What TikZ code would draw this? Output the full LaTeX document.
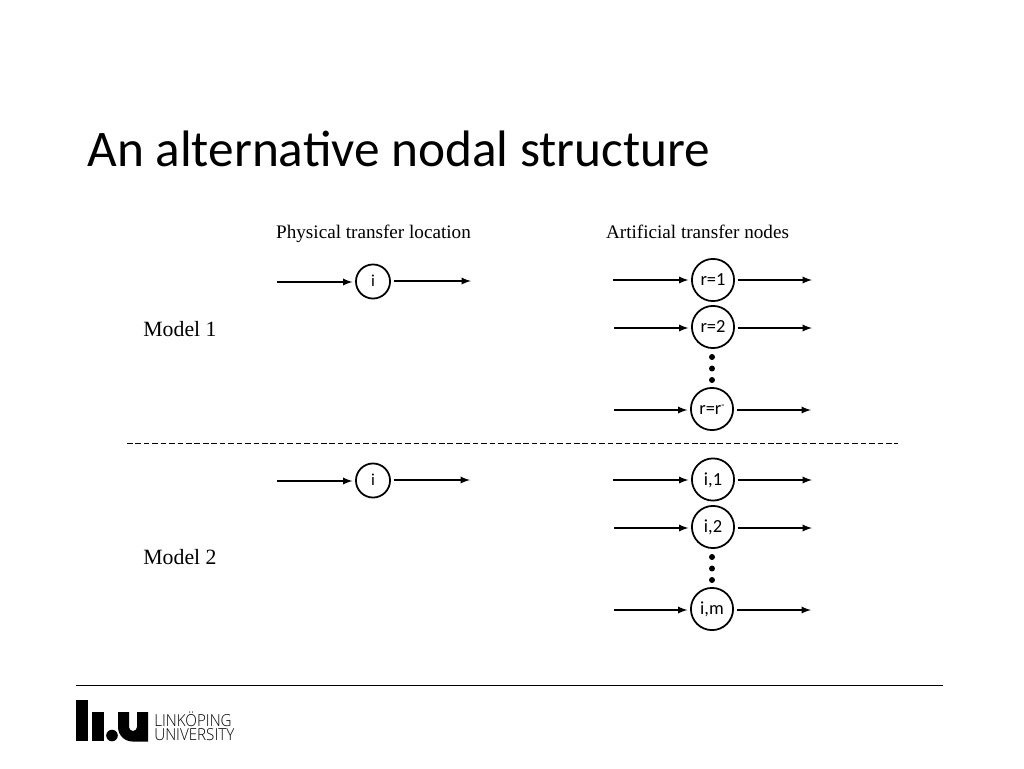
\documentclass[tikz,border=0pt]{standalone}
\usepackage{fontspec}
\setmainfont{Liberation Serif}
\setsansfont{Carlito}
\newfontfamily\logofont{Open Sans Light}[FakeStretch=0.92]
\tikzset{
 phys/.style={circle,draw,line width=1pt,minimum size=19.4pt,inner sep=0pt,text height=6.2pt,text depth=0pt,font=\sffamily\fontsize{9.5}{9.5}\selectfont},
 art/.style={circle,draw,line width=1pt,minimum size=24pt,inner sep=0pt,text height=6.6pt,text depth=0pt,font=\sffamily\fontsize{10.5}{10.5}\selectfont},
 flow/.style={->,>=latex,line width=0.85pt},
 head/.style={anchor=base,font=\fontsize{10.9}{10.9}\selectfont},
 model/.style={anchor=base west,inner sep=0pt,font=\fontsize{12.4}{12.4}\selectfont},
 dotn/.style={circle,fill,inner sep=0pt,minimum size=3.4pt}
}
\begin{document}
\begin{tikzpicture}[x=0.02cm,y=-0.02cm]
	\useasboundingbox (0,0) rectangle (1024,768);
	\node[anchor=west,inner sep=0pt,font=\sffamily\fontsize{29.2}{29.2}\selectfont] (title) at (87,149) {An alternative nodal structure};
	\node[head] (physhead) at (373.5,238) {Physical transfer location};
	\node[head] (arthead) at (697.5,238) {Artificial transfer nodes};
	\node[model] (model1) at (143,336.5) {Model 1};
	\node[model] (model2) at (143,564.5) {Model 2};
	% model 1
	\node[phys] (p1) at (373,281.5) {i};
	\node[art] (r1) at (713,280) {r=1};
	\node[art] (r2) at (713,327) {r=2};
	\node[art] (r3) at (712,409) {r=r\raisebox{0.7ex}{\fontsize{6}{6}\selectfont -}};
	% model 2
	\node[phys] (p2) at (373,480.5) {i};
	\node[art] (m1) at (713,479.5) {i,1};
	\node[art] (m2) at (713,527) {i,2};
	\node[art] (m3) at (712,609) {i,m};
	% free ends of the arrows
	\coordinate (p1a) at (277,282);
	\coordinate (p1b) at (471,281);
	\coordinate (p2a) at (277,481);
	\coordinate (p2b) at (470,480);
	\coordinate (r1a) at (613,280);
	\coordinate (r1b) at (812,280);
	\coordinate (r2a) at (614,328);
	\coordinate (r2b) at (812,328);
	\coordinate (r3a) at (614,410);
	\coordinate (r3b) at (811,410);
	\coordinate (m1a) at (613,480);
	\coordinate (m1b) at (812,480);
	\coordinate (m2a) at (614,528);
	\coordinate (m2b) at (812,528);
	\coordinate (m3a) at (614,610);
	\coordinate (m3b) at (811,610);
	\foreach \n in {p1,p2,r1,r2,r3,m1,m2,m3}{
		\draw[flow,shorten >=1.5pt] (\n a) -- (\n a -| \n.west);
		\draw[flow,shorten <=1.5pt] (\n b -| \n.east) -- (\n b);
	}
	% dots
	\foreach \y [count=\i] in {357,368.5,380}
		\node[dotn] (rdot\i) at (712,\y) {};
	\foreach \y [count=\i] in {557,568.5,580}
		\node[dotn] (mdot\i) at (712,\y) {};
	% separators
	\coordinate (sepa) at (127,443.5);
	\coordinate (sepb) at (898,443.5);
	\draw[line width=0.5pt,dash pattern=on 3.2pt off 1.6pt] (sepa) -- (sepb);
	\coordinate (footl) at (76,685);
	\coordinate (footr) at (943,685);
	\draw[line width=0.5pt] (footl) -- (footr);
	% logo
	\fill (76,700) rectangle (88,741);
	\fill (92,712) rectangle (103.5,741);
	\fill (112,735.5) circle (5.8);
	\fill (118,712) -- (118,727) arc (180:90:14.5) -- (148,741.5) -- (148,712) -- (137,712) -- (137,727) arc (0:180:4) -- (129,712) -- cycle;
	\node[anchor=west,inner sep=0pt,font=\fontsize{9.4}{9.4}\selectfont] (logoa) at (154,719) {\logofont LINKÖPING};
	\node[anchor=west,inner sep=0pt,font=\fontsize{9.4}{9.4}\selectfont] (logob) at (154,735) {\logofont UNIVERSITY};
\end{tikzpicture}
\end{document}
